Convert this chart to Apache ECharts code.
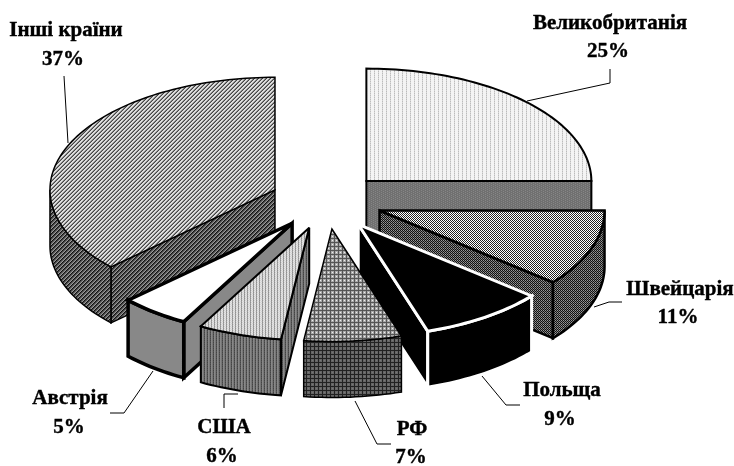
<!DOCTYPE html>
<html><head><meta charset="utf-8">
<style>html,body{margin:0;padding:0;background:#fff}#c{width:734px;height:466px}</style>
<script src="https://cdn.jsdelivr.net/npm/echarts@6/dist/echarts.min.js"></script>
</head><body><div id="c"></div>
<script>
var categories = ['Великобританія','Швейцарія','Польща','РФ','США','Австрія','Інші країни'];
var shares = [25,11,9,7,6,5,37];
var drawOrder = [6,0,1,2,5,4,3];

// 3D pie layout
var CX=326.6, CY=201, RX=225, RY=112.5, EXPLODE=0.25, DEPTH=56;

function pat(rows, map){
  var h=rows.length, w=rows[0].length, c=document.createElement('canvas');
  c.width=w;c.height=h;var g=c.getContext('2d');
  for(var y=0;y<h;y++)for(var x=0;x<w;x++){g.fillStyle=map[rows[y][x]];g.fillRect(x,y,1,1);}
  return {image:c,repeat:'repeat'};
}
var styles=[
 {top:pat(['wwpw','wwlw'],{w:'#f4f4f4',p:'#d8d8d8',l:'#bcbcbc'}), wall:pat(['mnmm','mmmn'],{m:'#707070',n:'#868686'}), stroke:'#000', lw:2},
 {top:pat(['kw','wk'],{k:'#222222',w:'#ffffff'}), wall:pat(['kl','dk'],{k:'#111111',l:'#999999',d:'#777777'}), stroke:'#000', lw:2.5},
 {top:'#000', wall:'#000', stroke:'#fff', lw:3},
 {top:pat(['wlkl','llkl','kkkk','llkl'],{k:'#555555',l:'#aaaaaa',w:'#eeeeee'}), wall:pat(['dmkm','mmkm','kkkk','mmkm'],{k:'#222222',m:'#666666',d:'#777777'}), stroke:'#000', lw:1.5},
 {top:pat(['wlp','pnw'],{w:'#e4e4e4',l:'#909090',p:'#d4d4d4',n:'#a0a0a0'}), wall:pat(['kmn','dmn'],{k:'#444444',d:'#555555',m:'#888888',n:'#777777'}), stroke:'#000', lw:2},
 {top:'#fff', wall:'#888888', stroke:'#000', lw:3.5},
 {top:pat(['kwwl','wwlk','wlkw','lkww'],{k:'#444444',w:'#dddddd',l:'#888888'}), wall:pat(['kdml','dmlk','mlkd','lkdm'],{k:'#111111',d:'#444444',m:'#666666',l:'#999999'}), stroke:'#000', lw:1.5}
];
// label centres and leader polylines (page pixels)
var labelLayout=[
 {a:[610,24],b:[608,52],leader:[[610,69],[610,83],[527,101]]},
 {a:[680,290],b:[678,318],leader:[[622,302],[609,302],[594,307]]},
 {a:[562,391],b:[560,420],leader:[[520,405],[506,405],[482,376]]},
 {a:[412,430],b:[411,458],leader:[[391,444],[377,444],[355,401]]},
 {a:[224,428],b:[222,457],leader:[[224,408],[224,394],[238,394]]},
 {a:[70,399],b:[69,428],leader:[[110,413],[124,413],[153,371]]},
 {a:[66,31],b:[63,60],leader:[[64,76],[68,143]]}
];
var total=shares.reduce(function(a,b){return a+b},0);
var starts=[],acc=0;
shares.forEach(function(v){starts.push(acc/total*360);acc+=v;});
var rad=Math.PI/180;
function rim(ax,ay,deg,dy){return [ax+RX*Math.sin(deg*rad), ay-RY*Math.cos(deg*rad)+(dy||0)];}
function arc(ax,ay,a,b,dy){var n=Math.max(2,Math.ceil(Math.abs(b-a)/1.5)),p=[];for(var i=0;i<=n;i++)p.push(rim(ax,ay,a+(b-a)*i/n,dy));return p;}
var FONT='bold 21px "Liberation Serif","Times New Roman",serif';

function renderItem(params,api){
  var idx=api.value(0), st=starts[idx], en=st+api.value(1)/total*360, mid=(st+en)/2;
  var ax=CX+EXPLODE*RX*Math.sin(mid*rad), ay=CY-EXPLODE*RY*Math.cos(mid*rad);
  var s=styles[idx], kids=[];
  function poly(points,fill){kids.push({type:'polygon',shape:{points:points},style:{fill:fill,stroke:s.stroke,lineWidth:s.lw,lineJoin:'miter',miterLimit:3}});}
  if(en<180){ var e=rim(ax,ay,en); poly([[ax,ay],e,[e[0],e[1]+DEPTH],[ax,ay+DEPTH]],s.wall); }
  if(st>180){ var e2=rim(ax,ay,st); poly([[ax,ay],e2,[e2[0],e2[1]+DEPTH],[ax,ay+DEPTH]],s.wall); }
  var ra=Math.max(st,90), rb=Math.min(en,270);
  if(rb>ra){ poly(arc(ax,ay,ra,rb,0).concat(arc(ax,ay,rb,ra,DEPTH)),s.wall); }
  poly([[ax,ay]].concat(arc(ax,ay,st,en,0)),s.top);
  var L=labelLayout[idx];
  kids.push({type:'polyline',shape:{points:L.leader},style:{fill:null,stroke:'#000',lineWidth:1}});
  kids.push({type:'text',style:{text:categories[idx],x:L.a[0],y:L.a[1],font:FONT,fill:'#000',stroke:'#000',lineWidth:0.4,align:'center',verticalAlign:'middle'}});
  kids.push({type:'text',style:{text:shares[idx]+'%',x:L.b[0],y:L.b[1],font:FONT,fill:'#000',stroke:'#000',lineWidth:0.4,align:'center',verticalAlign:'middle'}});
  return {type:'group',children:kids};
}
var chart=echarts.init(document.getElementById('c'),null,{renderer:'canvas'});
chart.setOption({
  animation:false,backgroundColor:'#fff',
  series:[{type:'custom',coordinateSystem:'none',silent:true,clip:false,renderItem:renderItem,
    data:drawOrder.map(function(i){return [i,shares[i],categories[i]];})}]
});
</script></body></html>
